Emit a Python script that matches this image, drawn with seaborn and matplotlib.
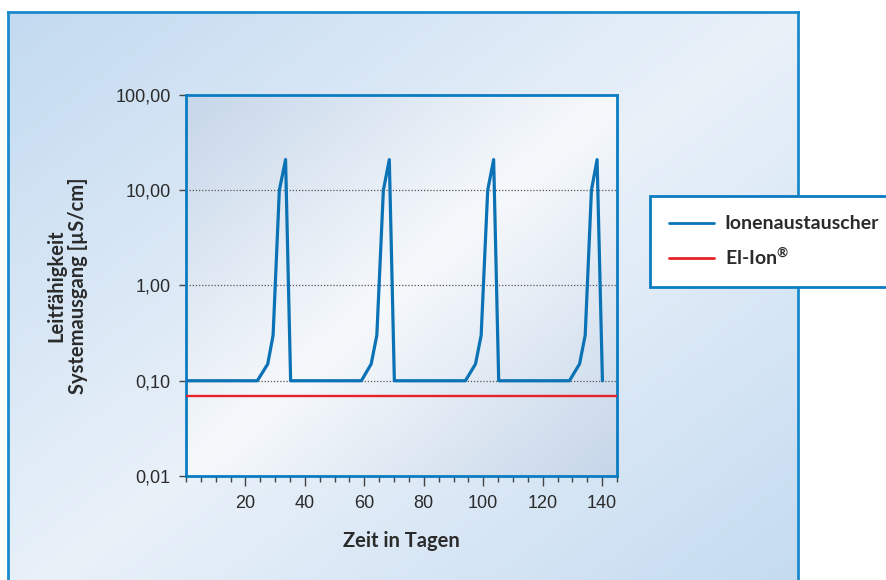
import numpy as np
import pandas as pd
import seaborn as sns
import matplotlib.pyplot as plt
from matplotlib.colors import LinearSegmentedColormap
from matplotlib.ticker import FixedLocator, FixedFormatter, MultipleLocator, NullLocator

# Data
ion_days = [0, 24, 27.5, 29.3, 31.4, 33.5, 35.2,
            59, 62.3, 64.2, 66.4, 68.4, 70.1,
            94, 97.4, 99.3, 101.5, 103.5, 105.2,
            129, 132.4, 134.3, 136.4, 138.3, 140.1]
ion_values = [0.1, 0.1, 0.15, 0.3, 10, 21, 0.1,
              0.1, 0.15, 0.3, 10, 21, 0.1,
              0.1, 0.15, 0.3, 10, 21, 0.1,
              0.1, 0.15, 0.3, 10, 21, 0.1]
elion_days = [0, 145]
elion_values = [0.07, 0.07]

y_ticks = [0.01, 0.1, 1, 10, 100]
y_tick_labels = ["0,01", "0,10", "1,00", "10,00", "100,00"]
x_ticks = [20, 40, 60, 80, 100, 120, 140]

series_names = ["Ionenaustauscher", "El-Ion$^{\u00ae}$"]

BLUE = "#0a72b5"
SPINE = "#0b7cc2"
FRAME = "#1b8acc"
RED = "#e6232b"
TEXT = "#2b2b2b"

sns.set_style("white")
plt.rcParams["font.family"] = ["Liberation Sans", "DejaVu Sans"]
plt.rcParams["mathtext.fontset"] = "custom"
plt.rcParams["mathtext.rm"] = "Lato:bold"
plt.rcParams["mathtext.it"] = "Lato:bold"
plt.rcParams["mathtext.bf"] = "Lato:bold"

W, H = 887, 580
fig = plt.figure(figsize=(W / 100, H / 100), dpi=100)


def diag_gradient(edge, mid, n=300):
    u = np.linspace(0, 1, n)
    uu, vv = np.meshgrid(u, u)
    s = np.abs((uu + vv) / 2 - 0.5) * 2
    cmap = LinearSegmentedColormap.from_list("g", [mid, edge])
    return s, cmap


# outer panel
bg = fig.add_axes([8 / W, -0.05, 790 / W, 1 - 12 / H + 0.05], zorder=0)
s, cmap = diag_gradient("#c3daf0", "#e9f1f9")
bg.imshow(s, cmap=cmap, extent=[0, 1, 0, 1], aspect="auto", vmin=0, vmax=1)
bg.set_xticks([])
bg.set_yticks([])
for sp in bg.spines.values():
    sp.set_color(FRAME)
    sp.set_linewidth(2)

# plot area gradient
pos = [186 / W, 1 - 476 / H, 431 / W, 381 / H]
gax = fig.add_axes(pos, zorder=1)
s2, cmap2 = diag_gradient("#c6d6e9", "#f6f9fc")
gax.imshow(s2, cmap=cmap2, extent=[0, 1, 0, 1], aspect="auto", vmin=0, vmax=1)
gax.axis("off")

ax = fig.add_axes(pos, zorder=2)
ax.patch.set_alpha(0)

df_ion = pd.DataFrame({"Tag": ion_days, "Wert": ion_values})
df_el = pd.DataFrame({"Tag": elion_days, "Wert": elion_values})
sns.lineplot(data=df_ion, x="Tag", y="Wert", color=BLUE, lw=2.3, estimator=None,
             ax=ax, label=series_names[0], zorder=4)
sns.lineplot(data=df_el, x="Tag", y="Wert", color=RED, lw=1.7, estimator=None,
             ax=ax, label=series_names[1], zorder=3)

ax.set_yscale("log")
ax.set_ylim(0.01, 100)
ax.set_xlim(0, 145)
ax.yaxis.set_major_locator(FixedLocator(y_ticks))
ax.yaxis.set_major_formatter(FixedFormatter(y_tick_labels))
ax.yaxis.set_minor_locator(NullLocator())
ax.xaxis.set_major_locator(FixedLocator(x_ticks))
ax.xaxis.set_minor_locator(MultipleLocator(5))

for y in [0.1, 1, 10]:
    ax.axhline(y, color="#555555", lw=0.9, ls=(0, (1, 1.5)), zorder=2)

ax.tick_params(axis="y", which="major", direction="out", length=5, width=1,
               color="#444444", labelsize=13, labelcolor=TEXT, pad=6, left=True)
ax.tick_params(axis="x", which="major", direction="out", length=7, width=1,
               color="#444444", labelsize=13, labelcolor=TEXT, pad=7, bottom=True)
ax.tick_params(axis="x", which="minor", direction="out", length=4, width=1,
               color="#444444", bottom=True)

for sp in ax.spines.values():
    sp.set_color(SPINE)
    sp.set_linewidth(2)
    sp.set_visible(True)

label_font = dict(family="Lato", weight="bold", size=14.5, color=TEXT)
ax.set_xlabel("Zeit in Tagen", **label_font)
ax.xaxis.set_label_coords(0.5, -0.145)
ax.set_ylabel("Leitf\u00e4higkeit\nSystemausgang [\u00b5S/cm]", linespacing=1.1, **label_font)
ax.yaxis.set_label_coords(-0.228, 0.5)

leg = ax.legend(loc="upper left", bbox_to_anchor=(650 / W, 1 - 196 / H),
                bbox_transform=fig.transFigure, frameon=True, fancybox=False,
                framealpha=1, facecolor="white", edgecolor=SPINE,
                prop=dict(family="Lato", weight="bold", size=14),
                handlelength=2.3, handletextpad=0.55, borderpad=1.0,
                labelspacing=0.7, borderaxespad=0)
leg.get_frame().set_linewidth(2)
for t in leg.get_texts():
    t.set_color(TEXT)
for line in leg.get_lines():
    line.set_linewidth(2)

fig.savefig("out.png", dpi=100)
